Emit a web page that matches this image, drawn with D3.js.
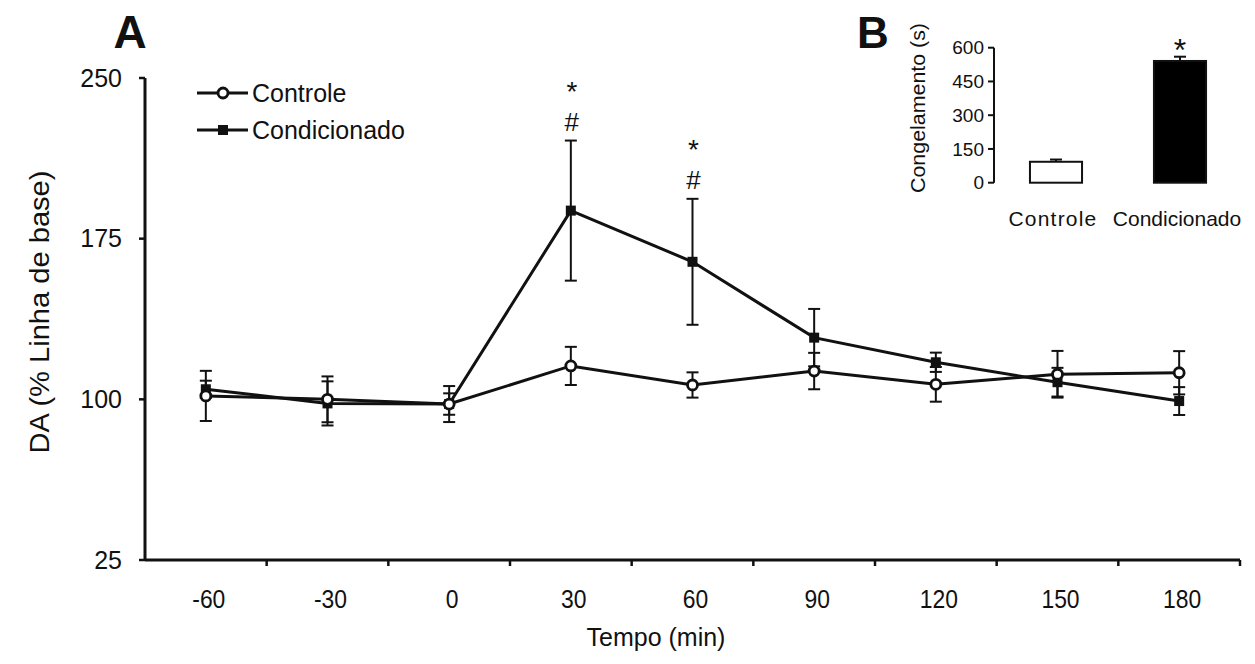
<!DOCTYPE html>
<html>
<head>
<meta charset="utf-8">
<script src="https://cdn.jsdelivr.net/npm/d3@7"></script>
<style>
  html, body { margin: 0; padding: 0; background: #fff; }
  svg { display: block; }
  text { font-family: Arial, "Liberation Sans", sans-serif; fill: #111; }
</style>
</head>
<body>
<svg id="chart" width="1255" height="664"></svg>
<script>
// Panel A: dopamine over time (% of baseline), mean ± SEM
const times = ["-60", "-30", "0", "30", "60", "90", "120", "150", "180"];
const controle = [101.6, 100.0, 97.8, 115.6, 106.7, 113.2, 107.0, 111.7, 112.4];
const controleSem = [11.7, 10.7, 8.4, 8.9, 5.9, 8.5, 8.1, 10.9, 10.1];
const condicionado = [104.7, 98.1, 97.8, 188.1, 164.2, 128.8, 117.3, 108.0, 99.2];
const condicionadoSem = [4.0, 10.3, 5.0, 32.7, 29.4, 13.4, 4.5, 6.7, 6.5];
const yTicks = [25, 100, 175, 250];
// significance marks above time points
const marks = [{ t: "30", sym: ["*", "#"] }, { t: "60", sym: ["*", "#"] }];

// Panel B: freezing time (s)
const groups = ["Controle", "Condicionado"];
const freezing = [93, 541];
const freezingSem = [10, 19];
const freezingTicks = [0, 150, 300, 450, 600];

const svg = d3.select("#chart");

// ---------- Panel A ----------
const x = d3.scaleBand().domain(times).range([145, 1240]);
const y = d3.scaleLinear().domain([25, 250]).range([560, 78]);
const cx = t => x(t) + x.bandwidth() / 2;

const gA = svg.append("g");

// y axis
gA.append("line").attr("x1", 145).attr("x2", 145)
  .attr("y1", y(250)).attr("y2", y(25))
  .attr("stroke", "#111").attr("stroke-width", 3);
gA.selectAll(".ytick").data(yTicks).enter().append("line")
  .attr("x1", 139).attr("x2", 145)
  .attr("y1", d => y(d)).attr("y2", d => y(d))
  .attr("stroke", "#111").attr("stroke-width", 2.5);
gA.selectAll(".ylab").data(yTicks).enter().append("text")
  .attr("x", 122).attr("y", d => y(d))
  .attr("dy", "0.35em").attr("text-anchor", "end")
  .attr("font-size", 25).text(d => d);

// x axis
gA.append("line").attr("x1", 145).attr("x2", 1240)
  .attr("y1", y(25)).attr("y2", y(25))
  .attr("stroke", "#111").attr("stroke-width", 3);
gA.selectAll(".xtick").data(times).enter().append("line")
  .attr("x1", d => x(d) + x.bandwidth()).attr("x2", d => x(d) + x.bandwidth())
  .attr("y1", y(25)).attr("y2", y(25) + 6)
  .attr("stroke", "#111").attr("stroke-width", 2.5);
gA.selectAll(".xlab").data(times).enter().append("text")
  .attr("x", d => cx(d) + 3).attr("y", 608)
  .attr("text-anchor", "middle")
  .attr("font-size", 26).attr("transform-origin", d => `${cx(d) + 3} 608`)
  .attr("transform", "scale(0.88,1)")
  .text(d => d);

// axis titles
gA.append("text").attr("x", 656).attr("y", 646)
  .attr("text-anchor", "middle").attr("font-size", 25).text("Tempo (min)");
gA.append("text")
  .attr("transform", "translate(49,312) rotate(-90)")
  .attr("text-anchor", "middle").attr("font-size", 27)
  .attr("textLength", 283).attr("lengthAdjust", "spacingAndGlyphs")
  .text("DA (% Linha de base)");

// panel letter
svg.append("text").attr("x", 130).attr("y", 48).attr("text-anchor", "middle")
  .attr("font-size", 46).attr("font-weight", "bold").text("A");

// series: error bars + connecting line
function drawSeries(vals, sems) {
  const g = gA.append("g");
  const pts = times.map((t, i) => ({ t, v: vals[i], s: sems[i] }));
  const eb = g.selectAll(".eb").data(pts).enter().append("g")
    .attr("stroke", "#111").attr("stroke-width", 2);
  eb.append("line").attr("x1", d => cx(d.t)).attr("x2", d => cx(d.t))
    .attr("y1", d => y(d.v + d.s)).attr("y2", d => y(d.v - d.s));
  eb.append("line").attr("x1", d => cx(d.t) - 6).attr("x2", d => cx(d.t) + 6)
    .attr("y1", d => y(d.v + d.s)).attr("y2", d => y(d.v + d.s));
  eb.append("line").attr("x1", d => cx(d.t) - 6).attr("x2", d => cx(d.t) + 6)
    .attr("y1", d => y(d.v - d.s)).attr("y2", d => y(d.v - d.s));
  g.append("path").datum(pts)
    .attr("d", d3.line().x(d => cx(d.t)).y(d => y(d.v)))
    .attr("fill", "none").attr("stroke", "#111").attr("stroke-width", 3);
  return { g, pts };
}

const sCond = drawSeries(condicionado, condicionadoSem);
const sCont = drawSeries(controle, controleSem);

sCond.g.selectAll(".m").data(sCond.pts).enter().append("rect")
  .attr("x", d => cx(d.t) - 5).attr("y", d => y(d.v) - 5)
  .attr("width", 10).attr("height", 10).attr("fill", "#111");
sCont.g.selectAll(".m").data(sCont.pts).enter().append("circle")
  .attr("cx", d => cx(d.t)).attr("cy", d => y(d.v)).attr("r", 5)
  .attr("fill", "#fff").attr("stroke", "#111").attr("stroke-width", 2.8);

// significance symbols stacked above the upper error bar
marks.forEach(m => {
  const i = times.indexOf(m.t);
  const top = y(condicionado[i] + condicionadoSem[i]);
  gA.append("text").attr("text-anchor", "middle")
    .attr("x", cx(m.t) + 1).attr("y", top - 40)
    .attr("font-size", 28).text(m.sym[0]);
  gA.append("text").attr("text-anchor", "middle")
    .attr("x", cx(m.t) + 1).attr("y", top - 10)
    .attr("font-size", 26).text(m.sym[1]);
});

// legend
const legend = [{ name: "Controle", kind: "circle" }, { name: "Condicionado", kind: "square" }];
const lg = gA.selectAll(".lg").data(legend).enter().append("g")
  .attr("transform", (d, i) => `translate(197,${93 + i * 37})`);
lg.append("line").attr("x1", 0).attr("x2", 51).attr("y1", 0).attr("y2", 0)
  .attr("stroke", "#111").attr("stroke-width", 3);
lg.filter(d => d.kind === "circle").append("circle")
  .attr("cx", 26).attr("cy", 0).attr("r", 5)
  .attr("fill", "#fff").attr("stroke", "#111").attr("stroke-width", 2.8);
lg.filter(d => d.kind === "square").append("rect")
  .attr("x", 21).attr("y", -5).attr("width", 10).attr("height", 10).attr("fill", "#111");
lg.append("text").attr("x", 55).attr("y", 0).attr("dy", "0.35em")
  .attr("font-size", 25).text(d => d.name);

// ---------- Panel B ----------
const xb = d3.scaleBand().domain(groups).range([994, 1242]).paddingInner(0.58).paddingOuter(0.29);
const yb = d3.scaleLinear().domain([0, 600]).range([182.7, 47.7]);
const gB = svg.append("g");

svg.append("text").attr("x", 857).attr("y", 48)
  .attr("font-size", 44).attr("font-weight", "bold").text("B");

gB.append("line").attr("x1", 994).attr("x2", 994)
  .attr("y1", yb(600)).attr("y2", yb(0))
  .attr("stroke", "#111").attr("stroke-width", 2);
gB.selectAll(".bt").data(freezingTicks).enter().append("line")
  .attr("x1", 988).attr("x2", 994)
  .attr("y1", d => yb(d)).attr("y2", d => yb(d))
  .attr("stroke", "#111").attr("stroke-width", 2);
gB.selectAll(".bl").data(freezingTicks).enter().append("text")
  .attr("x", 984).attr("y", d => yb(d)).attr("dy", "0.35em")
  .attr("text-anchor", "end").attr("font-size", 19).text(d => d);
gB.append("text")
  .attr("transform", "translate(925,108) rotate(-90)")
  .attr("text-anchor", "middle").attr("font-size", 20)
  .attr("textLength", 170).attr("lengthAdjust", "spacingAndGlyphs")
  .text("Congelamento (s)");

const bars = groups.map((g, i) => ({ g, v: freezing[i], s: freezingSem[i] }));
// error bars (upper only)
gB.selectAll(".be").data(bars).enter().append("g")
  .attr("stroke", "#111").attr("stroke-width", 2)
  .each(function (d) {
    const c = xb(d.g) + xb.bandwidth() / 2;
    d3.select(this).append("line").attr("x1", c).attr("x2", c)
      .attr("y1", yb(d.v)).attr("y2", yb(d.v + d.s));
    d3.select(this).append("line").attr("x1", c - 6).attr("x2", c + 6)
      .attr("y1", yb(d.v + d.s)).attr("y2", yb(d.v + d.s));
  });
gB.selectAll(".bar").data(bars).enter().append("rect")
  .attr("x", d => xb(d.g)).attr("y", d => yb(d.v))
  .attr("width", xb.bandwidth()).attr("height", d => yb(0) - yb(d.v))
  .attr("fill", (d, i) => i === 0 ? "#fff" : "#000")
  .attr("stroke", "#111").attr("stroke-width", 2);
gB.selectAll(".bx").data(groups).enter().append("text")
  .attr("x", d => xb(d) + xb.bandwidth() / 2 - 3).attr("y", 226)
  .attr("text-anchor", "middle").attr("font-size", 21)
  .attr("letter-spacing", (d, i) => i === 0 ? 1.2 : 0)
  .text(d => d);
gB.append("text")
  .attr("x", xb("Condicionado") + xb.bandwidth() / 2)
  .attr("y", yb(freezing[1] + freezingSem[1]) + 4)
  .attr("text-anchor", "middle").attr("font-size", 32).text("*");
</script>
</body>
</html>
